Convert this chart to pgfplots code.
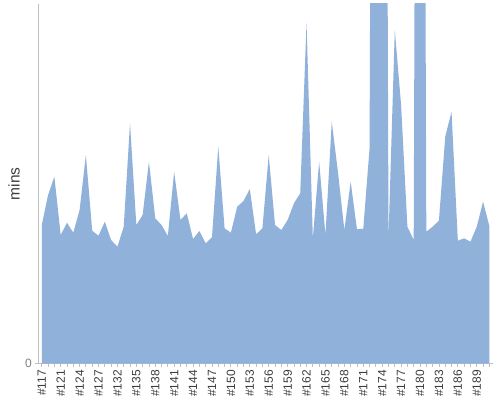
\documentclass[border=0pt]{standalone}
\usepackage{pgfplots}
\pgfplotsset{compat=1.18}
\usepackage{fontspec}
\setmainfont{Liberation Sans}
\definecolor{areablue}{RGB}{143,177,218}
\definecolor{axisgray}{RGB}{192,192,192}
\definecolor{labelgray}{RGB}{60,60,60}

\begin{document}
\begin{tikzpicture}[x=1pt,y=1pt]
\path[use as bounding box] (0,0) rectangle (500,400);
\begin{axis}[
    at={(38.3pt,36.5pt)}, anchor=south west,
    scale only axis,
    width=454.2pt, height=359.5pt,
    xmin=-0.55, xmax=71.5,
    ymin=0, ymax=35.95,
    axis x line*=bottom, axis y line*=left,
    axis line style={axisgray, line width=0.8pt, -},
    tick align=outside,
    major tick length=3pt,
    tick style={axisgray, line width=0.8pt},
    xtick={0,...,71},
    xticklabels={\#117,,,\#121,,,\#124,,,\#127,,,\#132,,,\#135,,,\#138,,,\#141,,,
        \#144,,,\#147,,,\#150,,,\#153,,,\#156,,,\#159,,,\#162,,,\#165,,,
        \#168,,,\#171,,,\#174,,,\#177,,,\#180,,,\#183,,,\#186,,,\#189,,},
    xticklabel style={rotate=90, anchor=east, font=\fontsize{12}{14}\selectfont, text=labelgray},
    ytick={0}, yticklabels={0},
    yticklabel style={font=\fontsize{12}{14}\selectfont, text=gray},
    ylabel={mins},
    ylabel style={at={(axis description cs:-0.0535,0.5)}, anchor=center,
        font=\fontsize{15.5}{18}\selectfont, text=labelgray},
]
% build times, minutes (very long runs clipped at the top)
\addplot[draw=none, fill=areablue] coordinates {
    (0,13.85) (1,16.85) (2,18.68) (3,12.85) (4,14.08) (5,13.08)
    (6,15.35) (7,20.85) (8,13.28) (9,12.78) (10,14.18) (11,12.35)
    (12,11.68) (13,13.68) (14,24.02) (15,13.85) (16,14.85) (17,20.18)
    (18,14.52) (19,13.85) (20,12.75) (21,19.18) (22,14.35) (23,15.02)
    (24,12.45) (25,13.25) (26,12.02) (27,12.62) (28,21.68) (29,13.52)
    (30,13.08) (31,15.68) (32,16.25) (33,17.45) (34,12.92) (35,13.52)
    (36,20.85) (37,13.85) (38,13.35) (39,14.35) (40,16.02) (41,17.02)
    (42,34.08) (43,12.52) (44,20.18) (45,12.85) (46,24.18) (47,19.05)
    (48,13.35) (49,18.18) (50,13.42) (51,13.48) (52,21.55) (53,200)
    (54,200) (55,12.55) (56,33.35) (57,25.85) (58,13.68) (59,12.35)
    (60,200) (61,13.18) (62,13.68) (63,14.28) (64,22.68) (65,25.18)
    (66,12.28) (67,12.52) (68,12.18) (69,13.68) (70,16.18) (71,13.75)
} \closedcycle;
\end{axis}
\end{tikzpicture}
\end{document}
